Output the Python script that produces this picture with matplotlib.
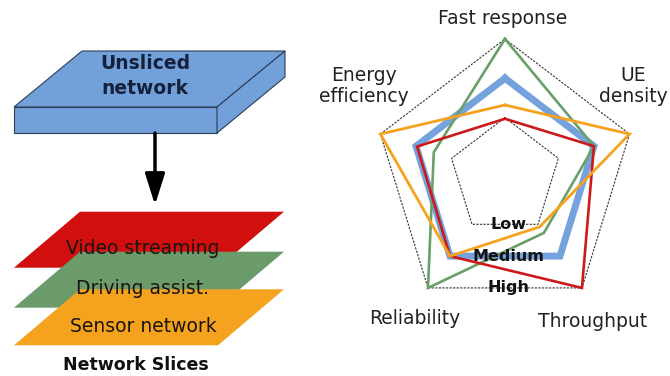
import numpy as np
import matplotlib
matplotlib.use('Agg')
import matplotlib.pyplot as plt
from matplotlib.patches import Polygon

# radar data: level 1 = Low, 2 = Medium, 3 = High
axes_labels = ['Fast response', 'UE\ndensity', 'Throughput', 'Reliability', 'Energy\nefficiency']
level_names = ['Low', 'Medium', 'High']
blue_vals = [2, 2, 2, 2, 2]
green_vals = [3, 2, 1.27, 3, 1.5]
red_vals = [0.97, 2, 3, 2, 1.97]
orange_vals = [1.32, 3, 1.08, 2, 3]

# slices (left diagram)
slice_names = ['Video streaming', 'Driving assist.', 'Sensor network']
slice_colors = ['#d10f0f', '#6b9a6b', '#f5a31e']

fig = plt.figure(figsize=(6.7, 3.76), dpi=100)

# ---- left diagram, pixel-like coords ----
ax1 = fig.add_axes([0, 0, 300 / 670, 1])
ax1.set_xlim(0, 300)
ax1.set_ylim(376, 0)
ax1.axis('off')

slab_col = '#72a0d8'
edge_col = '#2c3e5c'
x0, x1, shift, y_top, y_mid, y_bot = 14, 217, 68, 51, 107, 133
ax1.add_patch(Polygon([[x0 + shift, y_top], [x1 + shift, y_top], [x1, y_mid], [x0, y_mid]],
                      closed=True, fc=slab_col, ec=edge_col, lw=0.8))
ax1.add_patch(Polygon([[x0, y_mid], [x1, y_mid], [x1, y_bot], [x0, y_bot]],
                      closed=True, fc=slab_col, ec=edge_col, lw=0.8))
ax1.add_patch(Polygon([[x1, y_mid], [x1 + shift, y_top], [x1 + shift, y_top + 26], [x1, y_bot]],
                      closed=True, fc=slab_col, ec=edge_col, lw=0.8))
ax1.text(145, 76, 'Unsliced\nnetwork', ha='center', va='center', fontsize=13.5,
         fontweight='bold', color='#14213d', linespacing=1.35)

ax1.annotate('', xy=(155, 205), xytext=(155, 133),
             arrowprops=dict(arrowstyle='-|>,head_width=0.6,head_length=1.9', color='black',
                             lw=2.5, shrinkA=0, shrinkB=0))

h = 56
tops = [211.7, 251.7, 289.3]
for i in range(len(slice_names)):
    t = tops[i]
    ax1.add_patch(Polygon([[80, t], [284, t], [218, t + h], [14, t + h]],
                          closed=True, fc=slice_colors[i], ec='none'))
for i, name in enumerate(slice_names):
    ax1.text(143, tops[i] + 37, name, ha='center', va='center', fontsize=13.5,
             color='#1a1410', zorder=5)
ax1.text(136, 365, 'Network Slices', ha='center', va='center', fontsize=12.5,
         fontweight='bold', color='#111111')

# ---- radar ----
ax2 = fig.add_axes([300 / 670, 0, 370 / 670, 1])
ax2.set_xlim(-1.565, 1.260)
ax2.set_ylim(-1.449, 1.283)
ax2.axis('off')

theta = np.pi / 2 - np.arange(5) * 2 * np.pi / 5


def frac(v):
    return (np.asarray(v, dtype=float) + 0.5) / 3.5


def xy(vals):
    r = frac(vals)
    x = r * np.cos(theta)
    y = r * np.sin(theta)
    return np.append(x, x[0]), np.append(y, y[0])


for lev in [1, 3]:
    gx, gy = xy([lev] * 5)
    ax2.plot(gx, gy, color='#333333', lw=0.8, ls=(0, (2, 1.2)))

series = [(blue_vals, '#74a2dc', 5.0), (green_vals, '#68a068', 1.9),
          (red_vals, '#cc1a1a', 1.9), (orange_vals, '#f6a21e', 2.0)]
for vals, col, lw in series:
    sx, sy = xy(vals)
    ax2.plot(sx, sy, color=col, lw=lw, solid_joinstyle='miter')

for i, name in enumerate(level_names):
    ax2.text(0.03, -0.809 * frac(i + 1), name, ha='center', va='center',
             fontsize=11.5, fontweight='bold', color='#111111')

label_pos = [(-0.02, 1.15), (0.98, 0.66), (0.67, -1.056), (-0.69, -1.028), (-1.08, 0.66)]
for name, (lx, ly) in zip(axes_labels, label_pos):
    ax2.text(lx, ly, name, ha='center', va='center', fontsize=13.5, color='#222222',
             linespacing=1.15)

fig.savefig('out.png', dpi=100)
